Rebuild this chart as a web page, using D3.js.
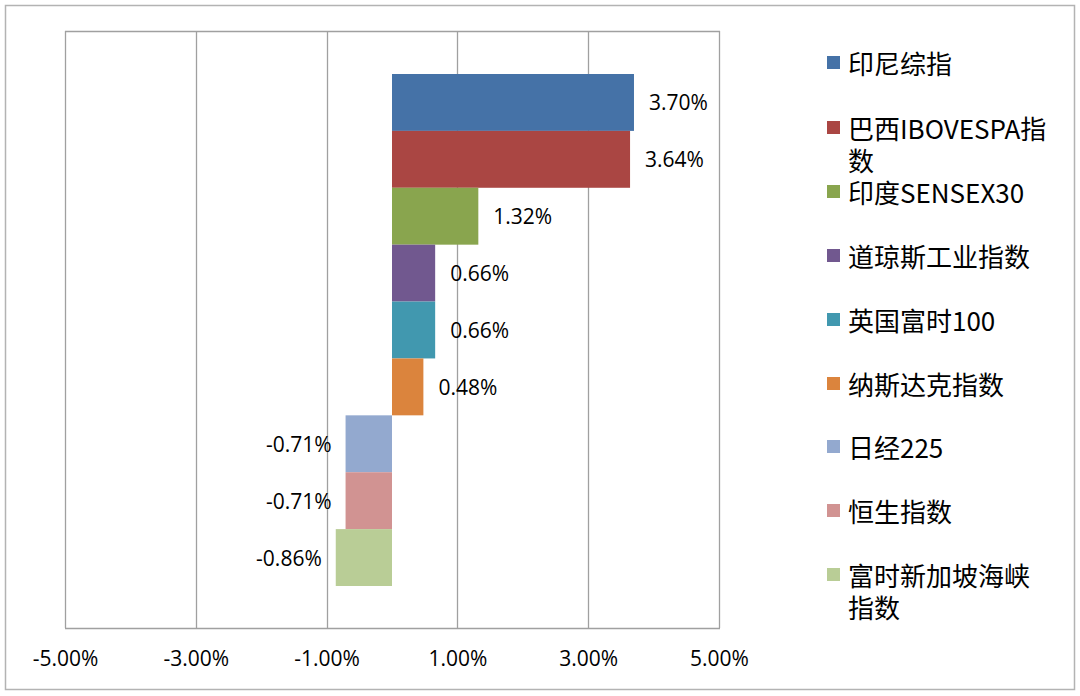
<!DOCTYPE html>
<html>
<head>
<meta charset="utf-8">
<script src="https://cdn.jsdelivr.net/npm/d3@7"></script>
<style>
  body { margin: 0; background: #fff; }
  text { font-family: "Noto Sans CJK SC", "Open Sans", sans-serif; fill: #000; }
</style>
</head>
<body>
<svg id="chart" width="1080" height="696"></svg>
<script>
var names = ["印尼综指", "巴西IBOVESPA指数", "印度SENSEX30", "道琼斯工业指数", "英国富时100",
             "纳斯达克指数", "日经225", "恒生指数", "富时新加坡海峡指数"];
var values = [3.70, 3.64, 1.32, 0.66, 0.66, 0.48, -0.71, -0.71, -0.86];
var colors = ["#4572A7", "#AA4643", "#89A54E", "#71588F", "#4198AF",
              "#DB843D", "#93A9CF", "#D19392", "#B9CD96"];
var ticks = [-5, -3, -1, 1, 3, 5];

var pct = function (d) { return d3.format(".2f")(d).replace("\u2212", "-") + "%" };

var svg = d3.select("#chart");

// outer frame
svg.append("rect")
    .attr("x", 5.5).attr("y", 5.5).attr("width", 1069).attr("height", 684)
    .attr("fill", "#fff").attr("stroke", "#b3b3b3").attr("stroke-width", 1.5);

var plotTop = 31, plotBottom = 628;
var x = d3.scaleLinear().domain([-5, 5]).range([65, 719]);
var y = d3.scaleBand().domain(names).range([74, 586]).padding(0);

// gridlines
svg.selectAll(".grid")
    .data(ticks)
    .enter()
    .append("line")
        .attr("x1", function (d) { return Math.round(x(d)) + 0.5 })
        .attr("x2", function (d) { return Math.round(x(d)) + 0.5 })
        .attr("y1", plotTop).attr("y2", plotBottom)
        .attr("stroke", "#a0a0a0").attr("stroke-width", 1.3);

svg.append("line")
    .attr("x1", x(-5)).attr("x2", x(5) + 1)
    .attr("y1", plotTop + 0.5).attr("y2", plotTop + 0.5)
    .attr("stroke", "#a0a0a0").attr("stroke-width", 1.3);
svg.append("line")
    .attr("x1", x(-5)).attr("x2", x(5) + 1)
    .attr("y1", plotBottom + 0.5).attr("y2", plotBottom + 0.5)
    .attr("stroke", "#a0a0a0").attr("stroke-width", 1.3);

// axis labels
var xAxis = d3.axisBottom(x)
    .tickValues(ticks)
    .tickSize(0)
    .tickPadding(23)
    .tickFormat(pct);
var ax = svg.append("g").attr("transform", "translate(0," + plotBottom + ")").call(xAxis);
ax.select(".domain").remove();
ax.selectAll("text")
    .style("font-family", "'Open Sans', 'Noto Sans CJK SC', sans-serif")
    .style("font-size", "21px")
    .attr("fill", "#000");

// bars
svg.selectAll(".bar")
    .data(values)
    .enter()
    .append("rect")
        .attr("x", function (d) { return x(Math.min(0, d)) })
        .attr("y", function (d, i) { return y(names[i]) })
        .attr("width", function (d) { return Math.abs(x(d) - x(0)) })
        .attr("height", y.bandwidth())
        .attr("fill", function (d, i) { return colors[i] });

// data labels
svg.selectAll(".lbl")
    .data(values)
    .enter()
    .append("text")
        .attr("x", function (d) { return d >= 0 ? x(d) + 15 : x(d) - 14 })
        .attr("y", function (d, i) { return y(names[i]) + y.bandwidth() / 2 })
        .attr("text-anchor", function (d) { return d >= 0 ? "start" : "end" })
        .attr("dominant-baseline", "central")
        .style("font-family", "'Open Sans', 'Noto Sans CJK SC', sans-serif")
        .style("font-size", "21px")
        .text(pct);

// legend
var legendRows = [63, 128, 192, 256, 320, 384, 447, 511, 575];
var leg = svg.selectAll(".leg")
    .data(names)
    .enter()
    .append("g")
        .attr("transform", function (d, i) { return "translate(827," + legendRows[i] + ")" });

leg.append("rect")
    .attr("x", 0).attr("y", -7).attr("width", 13).attr("height", 13)
    .attr("fill", function (d, i) { return colors[i] });

leg.each(function (d) {
    var g = d3.select(this);
    var t = g.append("text")
        .attr("x", 21).attr("y", -1)
        .attr("dominant-baseline", "central")
        .style("font-size", "26px");
    // wrap by measured width
    var chars = Array.from(d), line = "", lines = [];
    var probe = t.append("tspan");
    chars.forEach(function (c) {
        probe.text(line + c);
        if (probe.node().getComputedTextLength() > 203 && line) {
            lines.push(line);
            line = c;
        } else {
            line = line + c;
        }
    });
    lines.push(line);
    probe.remove();
    lines.forEach(function (l, k) {
        t.append("tspan").attr("x", 21).attr("dy", k === 0 ? 0 : 32).text(l);
    });
});
</script>
</body>
</html>
